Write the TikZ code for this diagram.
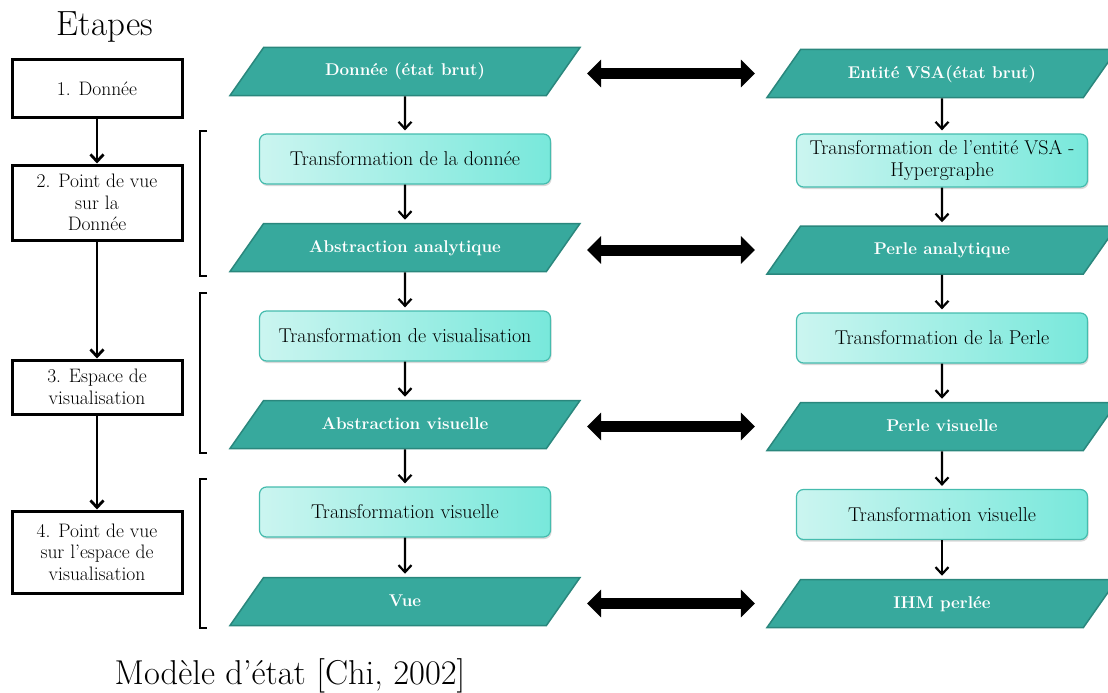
\documentclass[tikz,border=0pt]{standalone}
\usetikzlibrary{shapes.geometric,arrows.meta,shadows}
\definecolor{sarcelle}{HTML}{37A99D}
\definecolor{sarcellefonce}{HTML}{2A877D}
\definecolor{turqclair}{HTML}{CBF5F0}
\definecolor{turqvif}{HTML}{78E8DB}
\definecolor{turqbord}{HTML}{45BCAE}
\tikzset{
  etat/.style={trapezium, trapezium left angle=55, trapezium right angle=125,
    trapezium stretches body, draw=sarcellefonce, line width=1.5pt, fill=sarcelle,
    text=white, font=\fontsize{17}{20}\selectfont\bfseries,
    minimum width=350pt, inner sep=0pt, text height=28.5pt, text depth=19.5pt},
  transfo/.style={rectangle, rounded corners=7pt, draw=turqbord, line width=1.2pt,
    left color=turqclair, right color=turqvif, align=center,
    minimum width=291pt, minimum height=50pt, font=\fontsize{20}{22}\selectfont,
    drop shadow={shadow xshift=1pt, shadow yshift=-2pt, opacity=0.3}},
  etape/.style={draw, line width=3pt, minimum width=170pt, align=center,
    font=\fontsize{19.5}{21.5}\selectfont},
  fleche/.style={-{Straight Barb[length=7pt,width=13pt]}, line width=2.2pt, shorten >=3pt},
  grossefleche/.style={{Triangle[length=14pt,width=27pt]}-{Triangle[length=14pt,width=27pt]},
    line width=11pt}
}
\begin{document}
\begin{tikzpicture}[x=1pt,y=-1pt]
    \useasboundingbox (0,0) rectangle (1108,693);
    % Titres
    \node[font=\fontsize{35}{40}\selectfont] (titre) at (105,27) {Etapes};
    \node[font=\fontsize{34.5}{40}\selectfont] (legende) at (290,676) {Modèle d’état [Chi, 2002]};

    % Etapes a gauche
    \node[etape, minimum height=57pt] (e1) at (97,88.5) {1. Donnée};
    \node[etape, minimum height=75pt] (e2) at (97,202.5) {2. Point de vue\\sur la\\Donnée};
    \node[etape, minimum height=54pt] (e3) at (97,387) {3. Espace de\\visualisation};
    \node[etape, minimum height=82pt] (e4) at (97,552) {4. Point de vue\\sur l’espace de\\visualisation};
    \foreach \a/\b in {e1/e2,e2/e3,e3/e4}
    \draw[fleche, line width=2.8pt, shorten >=0pt] (\a) -- (\b);

    % Crochets
    \foreach \ya/\yb in {131/276,293/453,479/628}
    \draw[line width=2pt] (207,\ya) -- (200,\ya) -- (200,\yb) -- (207,\yb);

    % Colonne du modele de Chi
    \node[etat] (m1) at (405,71.5) {Donnée (état brut)};
    \node[transfo] (m2) at (405,159) {Transformation de la donnée};
    \node[etat] (m3) at (405,247.5) {Abstraction analytique};
    \node[transfo] (m4) at (405,336) {Transformation de visualisation};
    \node[etat] (m5) at (405,424.5) {Abstraction visuelle};
    \node[transfo] (m6) at (405,512) {Transformation visuelle};
    \node[etat] (m7) at (405,601.5) {Vue};

    % Colonne VSA
    \node[etat] (r1) at (942,73.5) {Entité VSA(état brut)};
    \node[transfo, minimum height=53pt] (r2) at (942,160.5) {Transformation de l’entité VSA -\\Hypergraphe};
    \node[etat] (r3) at (942,250) {Perle analytique};
    \node[transfo] (r4) at (942,338) {Transformation de la Perle};
    \node[etat] (r5) at (942,426.5) {Perle visuelle};
    \node[transfo] (r6) at (942,514.5) {Transformation visuelle};
    \node[etat] (r7) at (942,603.5) {IHM perlée};

    % Fleches verticales
    \foreach \a/\b in {m1/m2,m2/m3,m3/m4,m4/m5,m5/m6,m6/m7,r1/r2,r2/r3,r3/r4,r4/r5,r5/r6,r6/r7}
    \draw[fleche] (\a) -- (\b);

    % Correspondances
    \foreach \i in {1,3,5,7}
    \draw[grossefleche, shorten <=23pt, shorten >=28pt] (m\i.east |- r\i.west) -- (r\i.west);
\end{tikzpicture}
\end{document}
